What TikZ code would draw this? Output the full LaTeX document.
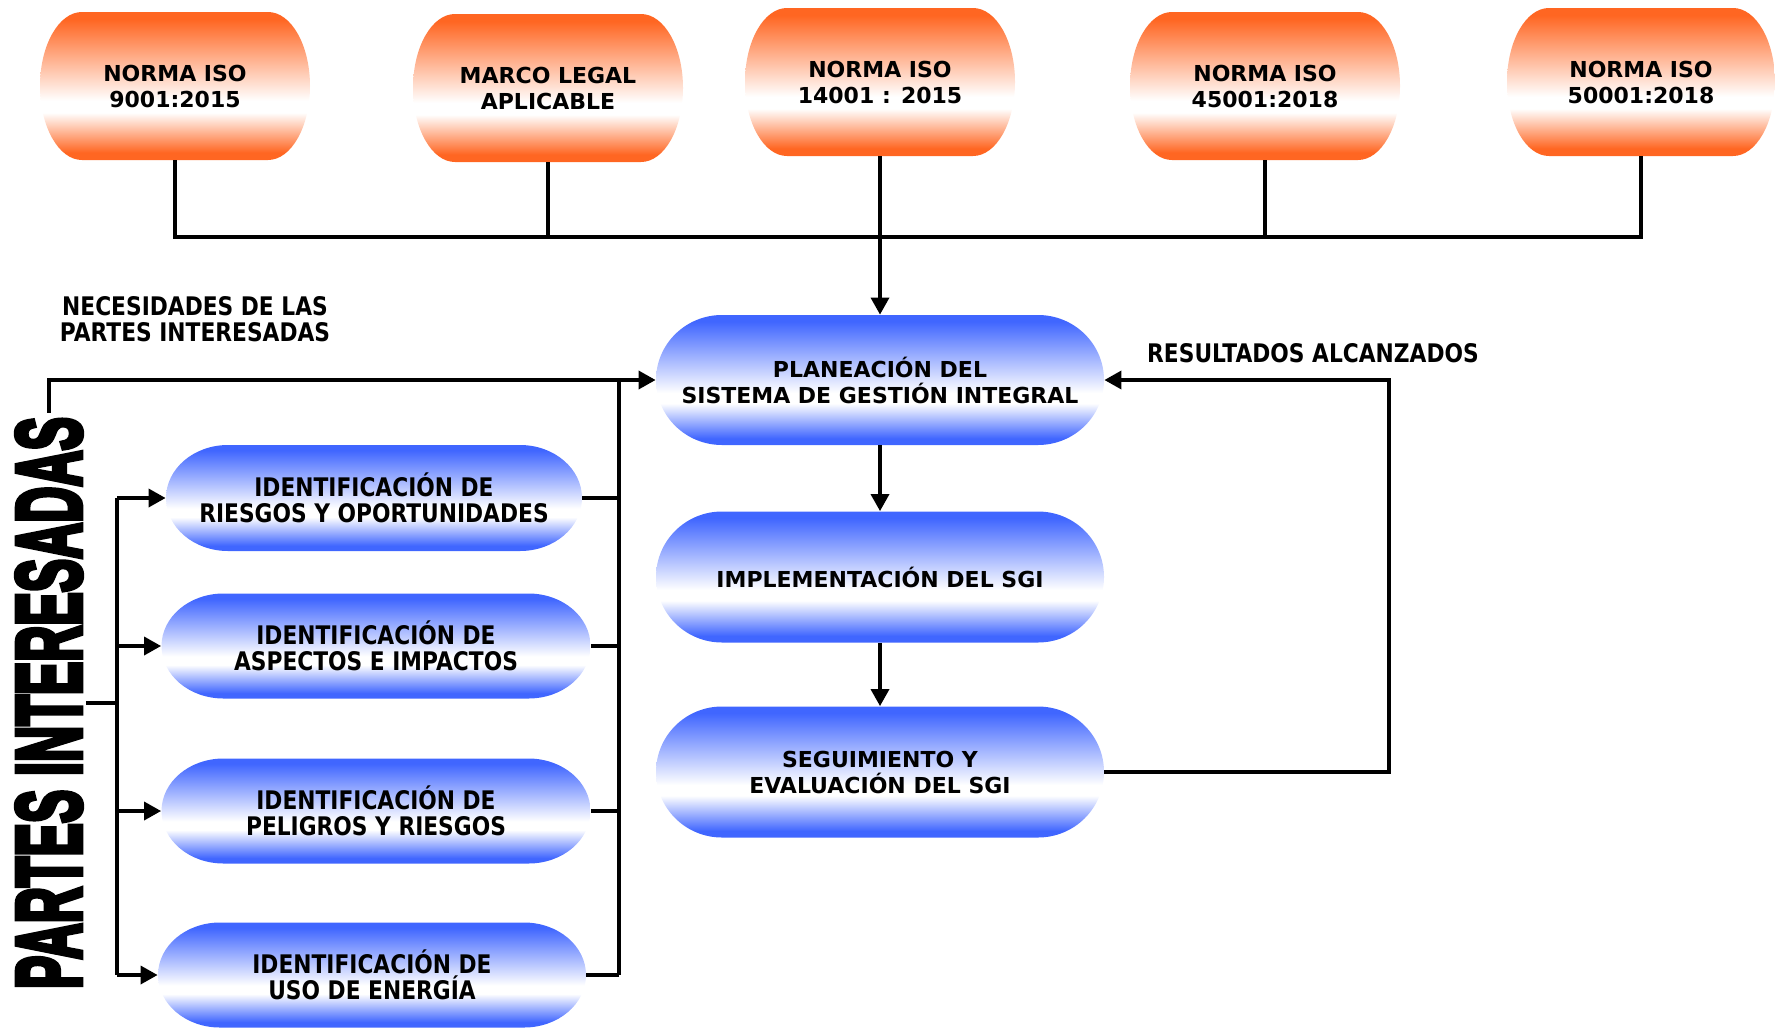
\documentclass[tikz,border=0pt]{standalone}
\usepackage{graphicx}
\usepackage{fontspec}
\setmainfont{DejaVu Sans}
\newfontfamily\condf{DejaVu Sans}[FakeStretch=0.85]
\newfontfamily\impactf{Liberation Sans}[FakeBold=6]
\usetikzlibrary{arrows.meta}
\definecolor{myor}{RGB}{255,102,34}
\definecolor{myblue}{RGB}{64,102,255}
\pgfdeclareverticalshading{orshade}{100bp}{color(0bp)=(myor); color(27.5bp)=(myor); color(41bp)=(white); color(45bp)=(white); color(72.5bp)=(myor); color(100bp)=(myor)}
\pgfdeclareverticalshading{blshade}{100bp}{color(0bp)=(myblue); color(27.5bp)=(myblue); color(41bp)=(white); color(45bp)=(white); color(72.5bp)=(myblue); color(100bp)=(myblue)}
% name, cx, cy, w, h, rx, shading, text
\newcommand{\pill}[9][wide]{%
  \path[shade,shading=#8] (#3-#5/2+#7,#4-#6/2) -- (#3+#5/2-#7,#4-#6/2)
    arc[start angle=90,end angle=-90,x radius=#7*0.5pt,y radius=#6*0.25pt]
    -- (#3-#5/2+#7,#4+#6/2)
    arc[start angle=270,end angle=90,x radius=#7*0.5pt,y radius=#6*0.25pt] -- cycle;
  \node[#1,minimum width=#5*0.5pt,minimum height=#6*0.5pt] (#2) at (#3,#4) {#9};
}
\begin{document}
\begin{tikzpicture}[x=0.5pt,y=-0.5pt,
  conn/.style={line width=1.75pt},
  arrowconn/.style={conn,-{Triangle[length=8.5pt,width=9pt]}},
  wide/.style={font=\bfseries\fontsize{11}{13}\selectfont,align=center,inner sep=0pt},
  cond/.style={font=\condf\bfseries\fontsize{12.8}{13}\selectfont,align=center,inner sep=0pt}]
\useasboundingbox (0,0) rectangle (1775,1028);
% top orange nodes
\pill[wide]{n1}{175}{86}{270}{148}{42}{orshade}{NORMA ISO\\9001:2015}
\pill[wide]{n2}{548}{88}{270}{148}{42}{orshade}{MARCO LEGAL\\APLICABLE}
\pill[wide]{n3}{880}{82}{270}{148}{42}{orshade}{NORMA ISO\\14001 : 2015}
\pill[wide]{n4}{1265}{86}{270}{148}{42}{orshade}{NORMA ISO\\45001:2018}
\pill[wide]{n5}{1641}{82}{268}{148}{42}{orshade}{NORMA ISO\\50001:2018}
% central blue nodes
\pill[wide]{plan}{880}{380}{448}{130}{66}{blshade}{PLANEACIÓN DEL\\SISTEMA DE GESTIÓN INTEGRAL}
\pill[wide]{impl}{880}{577}{448}{131}{66}{blshade}{IMPLEMENTACIÓN DEL SGI}
\pill[wide]{seg}{880}{772}{448}{131}{66}{blshade}{SEGUIMIENTO Y\\EVALUACIÓN DEL SGI}
% left blue nodes
\pill[cond]{r1}{374}{498}{416}{106}{62}{blshade}{IDENTIFICACIÓN DE\\RIESGOS Y OPORTUNIDADES}
\pill[cond]{r2}{376}{646}{429}{105}{62}{blshade}{IDENTIFICACIÓN DE\\ASPECTOS E IMPACTOS}
\pill[cond]{r3}{376}{811}{429}{105}{62}{blshade}{IDENTIFICACIÓN DE\\PELIGROS Y RIESGOS}
\pill[cond]{r4}{372}{975}{428}{105}{62}{blshade}{IDENTIFICACIÓN DE\\USO DE ENERGÍA}
% vertical title
\node[rotate=90,inner sep=0pt] (pt) at (49,703) {\resizebox{286pt}{32pt}{\impactf\bfseries PARTES INTERESADAS}};
% labels
\node[cond] (nec) at (195,319) {NECESIDADES DE LAS\\PARTES INTERESADAS};
\node[cond] (res) at (1313,353) {RESULTADOS ALCANZADOS};
% top bus
\coordinate (bus) at (0,237);
\draw[conn] (n1.south) -- (n1.south |- bus) -- (n5.south |- bus) -- (n5.south);
\draw[conn] (n2.south) -- (n2.south |- bus);
\draw[conn] (n4.south) -- (n4.south |- bus);
\draw[arrowconn] (n3.south) -- (plan.north);
\draw[arrowconn] (plan.south) -- (impl.north);
\draw[arrowconn] (impl.south) -- (seg.north);
% right bracket of left nodes
\coordinate (brx) at (619,0);
\foreach \r in {r1,r2,r3,r4} \draw[conn] (\r.east) -- (\r.east -| brx);
\draw[conn] (r4.east -| brx) -- (plan.west -| brx);
\draw[arrowconn] ([yshift=2pt]pt.east) |- (plan.west);
% left tree
\coordinate (tx) at (117,0);
\draw[conn] ([xshift=2pt]pt.south) -- (pt.south -| tx);
\draw[conn] (r1.west -| tx) -- (r4.west -| tx);
\foreach \r in {r1,r2,r3,r4} \draw[arrowconn] (\r.west -| tx) -- (\r.west);
% feedback
\coordinate (fbx) at (1389,0);
\draw[arrowconn] (seg.east) -- (seg.east -| fbx) -- (plan.east -| fbx) -- (plan.east);
\end{tikzpicture}
\end{document}
